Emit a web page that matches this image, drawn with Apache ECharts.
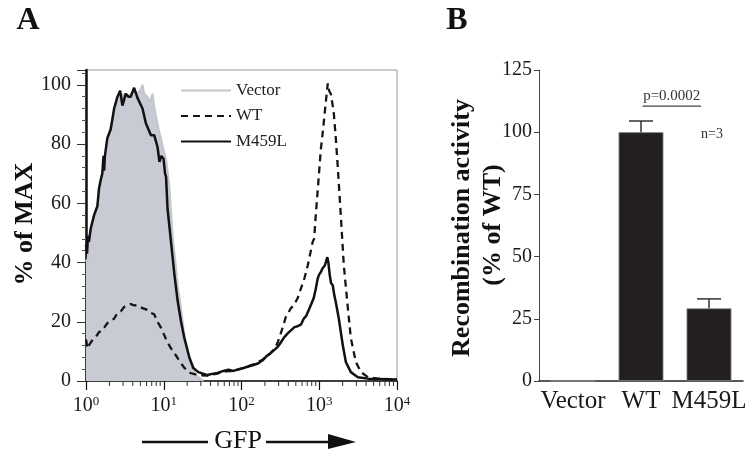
<!DOCTYPE html>
<html><head><meta charset="utf-8">
<script src="https://cdn.jsdelivr.net/npm/echarts@6/dist/echarts.min.js"></script>
<style>html,body{margin:0;padding:0;background:#fff}#c{width:756px;height:453px}</style>
</head><body><div id="c"></div>
<script>
const FONT = 'Liberation Serif';

// ---------- Panel A: GFP histograms, pairs of [GFP intensity, % of MAX] ----------
const vectorHist = [[1,41],[1.04,40],[1.09,46],[1.15,50],[1.27,55],[1.4,59],[1.55,66],[1.71,74],[1.88,80],[2.08,86],[2.3,90],[2.54,94],[2.75,96],[3.09,97],[3.4,96],[3.77,97],[4.16,98],[4.6,97],[5.08,98.6],[5.33,100],[5.6,97],[6.18,96],[6.6,94],[7.17,97],[7.5,93],[7.93,89.5],[8.6,85],[9.2,82],[9.94,78],[10.7,75],[11.8,66],[12.4,57],[13.0,49],[14.4,38],[15.1,32],[16.7,24.5],[18.4,15.5],[21.3,8],[24.8,3],[27.3,1.5],[32.3,0]];
const wtHist = [[1,14],[1.05,11],[1.09,12],[1.15,11.5],[1.22,14],[1.27,14.5],[1.35,15],[1.47,16.5],[1.6,17],[1.71,18],[1.88,19.5],[2.08,20.5],[2.3,21],[2.54,23],[2.8,23.5],[3.09,25],[3.4,25.5],[3.77,26],[4.16,25.5],[4.59,25.6],[5.33,24.6],[6.18,24],[6.84,23],[7.54,22.5],[8.32,20],[9.2,18],[9.94,16],[11.2,13],[12.4,11],[13.7,9.5],[15.1,7.7],[18.4,4.4],[22,2.7],[27.9,2],[36.4,1.8],[49,2.5],[58.6,3.2],[78.8,3.4],[106,4.4],[143,5.6],[187,7.2],[237,9.5],[270,11],[292,13],[319,16],[348,19],[370,21.5],[400,23],[429,24.5],[469,25.5],[528,28],[577,31],[650,35],[711,39],[780,44],[824,47],[860,48],[902,56],[986,69],[1046,78],[1110,84],[1160,89],[1213,94],[1288,100.5],[1340,98],[1406,97],[1470,94],[1538,90.5],[1633,82],[1733,72],[1893,56],[2070,39],[2335,24.5],[2549,14.5],[2958,6.4],[3431,3],[4225,1.3],[5690,0.8],[10000,0.5]];
const m459lHist = [[1,46],[1.03,43],[1.06,49],[1.09,47],[1.15,51.5],[1.27,56],[1.4,59],[1.47,65],[1.55,68],[1.62,70],[1.68,76],[1.71,71],[1.75,76],[1.88,82],[2.08,85],[2.3,92],[2.54,96],[2.75,98],[2.94,93],[3.25,97],[3.5,96],[3.77,96],[4.16,99],[4.59,95.6],[5.33,92],[5.89,87],[6.84,83],[7.54,83],[8.32,79],[8.8,74],[9.3,76],[9.94,75],[10.4,70],[10.7,69],[11.2,58],[12.4,47],[13.7,36],[15.1,27],[16.7,20],[18.4,14.5],[21.3,8],[24,4.4],[27.9,3],[36.4,2],[42,2.4],[49,2.7],[58.6,3.4],[68,3.8],[78.8,3.4],[92,4],[106,4.4],[125,5],[143,5.4],[165,6],[187,7],[210,8.4],[237,9.4],[265,10.5],[292,11.5],[320,13],[348,14.5],[390,16],[429,17],[480,18.2],[528,18.5],[580,19],[631,21],[680,22],[733,24],[790,26],[849,28],[900,31],[957,34.7],[1000,36],[1046,36.7],[1100,38],[1180,39],[1270,41.8],[1310,40],[1366,35.7],[1420,33],[1493,32.3],[1560,29],[1633,26.6],[1786,21],[2011,12],[2198,6.4],[2549,3],[3138,1.3],[4225,0.8],[10000,0.5]];
const gfpMin = 1, gfpMax = 10000;
const gfpMinorTicks = [2,3,4,5,6,7,8,9,20,30,40,50,60,70,80,90,200,300,400,500,600,700,800,900,2000,3000,4000,5000,6000,7000,8000,9000];
const pctMax = 105, pctInterval = 20;
const seriesNames = ['Vector','WT','M459L'];

// ---------- Panel B: recombination activity ----------
const categories = ['Vector','WT','M459L'];
const activity = [0, 100, 29.2];
const activityErr = [0, 4.5, 3.8];
const actMax = 125, actInterval = 25;
const pFrom = 'WT', pTo = 'M459L', pY = 110.5, pValueText = 'p=0.0002';
const nLabelCat = 'M459L', nLabelY = 99, nText = 'n=3';

const chart = echarts.init(document.getElementById('c'), null, {renderer:'canvas'});
const txt = '#1a1a1a';

const option = {
  animation: false,
  backgroundColor: '#fff',
  grid: [
    {left: 86, top: 70, width: 311, height: 311, show: true, borderColor: '#9a9a9a', borderWidth: 1, backgroundColor: 'transparent'},
    {left: 539, top: 70, width: 204, height: 311}
  ],
  legend: {
    data: seriesNames,
    orient: 'vertical', left: 180, top: 82,
    itemWidth: 50, itemHeight: 14, itemGap: 8.5, padding: 0,
    itemStyle: {color: 'rgba(0,0,0,0)', borderWidth: 0, opacity: 0},
    textStyle: {fontFamily: FONT, fontSize: 17, color: '#222'}
  },
  xAxis: [
    {type: 'log', logBase: 10, min: gfpMin, max: gfpMax, gridIndex: 0,
     axisLine: {lineStyle: {color: '#111', width: 1.5}},
     axisTick: {length: 9, lineStyle: {color: '#111', width: 1.2}},
     splitLine: {show: false},
     axisLabel: {margin: 14,
       formatter: v => '{b|10}{s|' + Math.round(Math.log10(v)) + '}',
       rich: {b: {fontFamily: FONT, fontSize: 20, color: txt},
              s: {fontFamily: FONT, fontSize: 13, color: txt, padding: [0,0,9,0]}}}},
    {type: 'category', data: categories, gridIndex: 1,
     axisLine: {lineStyle: {color: '#222', width: 1.5}},
     axisTick: {show: false},
     axisLabel: {interval: 0, hideOverlap: false, fontFamily: FONT, fontSize: 25, color: txt, margin: 8}}
  ],
  yAxis: [
    {type: 'value', min: 0, max: pctMax, interval: pctInterval, gridIndex: 0,
     axisLine: {show: true, lineStyle: {color: '#111', width: 2.5}},
     axisTick: {show: true, length: 9, lineStyle: {color: '#333'}},
     minorTick: {show: true, splitNumber: 5, length: 4, lineStyle: {color: '#555'}},
     splitLine: {show: false},
     axisLabel: {showMaxLabel: false, fontFamily: FONT, fontSize: 20, color: txt, margin: 15}},
    {type: 'value', min: 0, max: actMax, interval: actInterval, gridIndex: 1,
     axisLine: {show: true, lineStyle: {color: '#444', width: 1}},
     axisTick: {show: true, length: 5, lineStyle: {color: '#444'}},
     splitLine: {show: false},
     axisLabel: {fontFamily: FONT, fontSize: 20, color: txt, margin: 7}}
  ],
  series: [
    {name: 'Vector', type: 'line', xAxisIndex: 0, yAxisIndex: 0, data: vectorHist,
     symbol: 'none', lineStyle: {color: '#c4c6cc', width: 2},
     itemStyle: {color: '#c4c6cc'},
     areaStyle: {color: '#c8cbd3', opacity: 1}, z: 2},
    {name: 'WT', type: 'line', xAxisIndex: 0, yAxisIndex: 0, data: wtHist,
     symbol: 'none', lineStyle: {color: '#151515', width: 2.3, type: [7,5]},
     itemStyle: {color: '#151515'}, z: 3},
    {name: 'M459L', type: 'line', xAxisIndex: 0, yAxisIndex: 0, data: m459lHist,
     symbol: 'none', lineStyle: {color: '#111', width: 2.5},
     itemStyle: {color: '#111'}, z: 4},
    {type: 'custom', xAxisIndex: 0, yAxisIndex: 0, clip: false, silent: true,
     data: gfpMinorTicks.map(v => [v, 0]),
     renderItem: (params, api) => {
       const p = api.coord([api.value(0), 0]);
       return {type: 'line', shape: {x1: p[0], y1: p[1], x2: p[0], y2: p[1] + 5},
               style: {stroke: '#333', lineWidth: 1}};
     }, z: 5},
    {type: 'bar', xAxisIndex: 1, yAxisIndex: 1, data: activity, barCategoryGap: '34%',
     itemStyle: {color: '#231f20', borderColor: '#888', borderWidth: 0.8}},
    {type: 'custom', xAxisIndex: 1, yAxisIndex: 1, clip: false, silent: true,
     data: categories.map((c, i) => [i, activity[i], activityErr[i]]),
     renderItem: (params, api) => {
       const e = api.value(2);
       if (!e) return null;
       const base = api.coord([api.value(0), api.value(1)]);
       const top = api.coord([api.value(0), api.value(1) + e]);
       const hw = 12;
       return {type: 'group', children: [
         {type: 'line', shape: {x1: top[0], y1: base[1], x2: top[0], y2: top[1]}, style: {stroke: '#333', lineWidth: 1.5}},
         {type: 'line', shape: {x1: top[0] - hw, y1: top[1], x2: top[0] + hw, y2: top[1]}, style: {stroke: '#333', lineWidth: 1.5}}
       ]};
     }, z: 5},
    {type: 'custom', xAxisIndex: 1, yAxisIndex: 1, clip: false, silent: true,
     data: [[categories.indexOf(pFrom), pY, categories.indexOf(pTo)]],
     renderItem: (params, api) => {
       const a = api.coord([api.value(0), api.value(1)]);
       const b = api.coord([api.value(2), api.value(1)]);
       const x1 = a[0] + 1.5, x2 = b[0] - 8;
       return {type: 'group', children: [
         {type: 'line', shape: {x1: x1, y1: a[1], x2: x2, y2: a[1]}, style: {stroke: '#444', lineWidth: 1.3}},
         {type: 'text', x: (x1 + x2) / 2, y: a[1] - 3,
          style: {text: pValueText, font: '15px ' + FONT, fill: '#333', align: 'center', verticalAlign: 'bottom'}}
       ]};
     }, z: 5},
    {type: 'custom', xAxisIndex: 1, yAxisIndex: 1, clip: false, silent: true,
     data: [[categories.indexOf(nLabelCat), nLabelY]],
     renderItem: (params, api) => {
       const p = api.coord([api.value(0), api.value(1)]);
       return {type: 'text', x: p[0] + 3, y: p[1],
               style: {text: nText, font: '14px ' + FONT, fill: '#333', align: 'center', verticalAlign: 'middle'}};
     }, z: 5}
  ],
  graphic: [
    {type: 'text', x: 28, y: 21, style: {text: 'A', font: 'bold 32px ' + FONT, fill: '#111', align: 'center', verticalAlign: 'middle'}},
    {type: 'text', x: 457, y: 21, style: {text: 'B', font: 'bold 32px ' + FONT, fill: '#111', align: 'center', verticalAlign: 'middle'}},
    {type: 'text', x: 25, y: 224, rotation: Math.PI / 2, style: {text: '% of MAX', font: 'bold 26px ' + FONT, fill: '#111', align: 'center', verticalAlign: 'middle'}},
    {type: 'text', x: 462, y: 228, rotation: Math.PI / 2, style: {text: 'Recombination activity', font: 'bold 26px ' + FONT, fill: '#111', align: 'center', verticalAlign: 'middle'}},
    {type: 'text', x: 493, y: 225, rotation: Math.PI / 2, style: {text: '(% of WT)', font: 'bold 26px ' + FONT, fill: '#111', align: 'center', verticalAlign: 'middle'}},
    {type: 'line', shape: {x1: 142, y1: 442, x2: 208, y2: 442}, style: {stroke: '#111', lineWidth: 2.5}},
    {type: 'text', x: 238, y: 441, style: {text: 'GFP', font: '26px ' + FONT, fill: '#111', align: 'center', verticalAlign: 'middle'}},
    {type: 'line', shape: {x1: 266, y1: 442, x2: 330, y2: 442}, style: {stroke: '#111', lineWidth: 2.5}},
    {type: 'polygon', shape: {points: [[328, 434], [356, 442], [328, 449]]}, style: {fill: '#111'}}
  ]
};
chart.setOption(option);
</script></body></html>
